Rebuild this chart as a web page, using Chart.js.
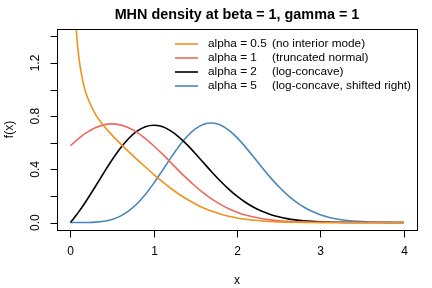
<!DOCTYPE html>
<html>
<head>
<meta charset="utf-8">
<script src="https://cdn.jsdelivr.net/npm/chart.js@4.4.1/dist/chart.umd.min.js"></script>
<style>
html,body{margin:0;padding:0;background:#fff;}
#wrap{width:432px;height:288px;}
</style>
</head>
<body>
<div id="wrap"><canvas id="c" width="432" height="288"></canvas></div>
<script>
// x grid
const xs = [0,0.02,0.05,0.07,0.1,0.15,0.2,0.3,0.4,0.5,0.6,0.7,0.8,0.9,1.0,1.1,1.2,1.3,1.4,1.5,1.6,1.7,1.8,1.9,2.0,2.1,2.2,2.3,2.4,2.5,2.6,2.7,2.8,2.9,3.0,3.1,3.2,3.3,3.4,3.5,3.6,3.7,3.8,3.9,4.0];
const alpha05 = [null,2.611,1.698,1.461,1.253,1.062,0.950,0.816,0.728,0.658,0.594,0.534,0.475,0.418,0.362,0.309,0.260,0.215,0.175,0.140,0.110,0.0845,0.0640,0.0475,0.0347,0.0248,0.0174,0.0120,0.0081,0.0054,0.0035,0.0022,0.0014,0.0009,0.0005,0.0003,0.0002,0.0001,0.0001,0,0,0,0,0,0];
const alpha1 = [0.578,0.589,0.606,0.617,0.632,0.657,0.678,0.713,0.735,0.742,0.735,0.713,0.678,0.632,0.578,0.518,0.455,0.391,0.330,0.273,0.221,0.176,0.137,0.1045,0.0782,0.0574,0.0412,0.0291,0.0201,0.0136,0.0090,0.0059,0.0037,0.0023,0.0014,0.0009,0.0005,0.0003,0.0002,0.0001,0,0,0,0,0];
const alpha2 = [0,0.0149,0.0384,0.0547,0.0802,0.1248,0.1719,0.2711,0.3725,0.4703,0.5588,0.6326,0.6877,0.7214,0.7325,0.7219,0.6915,0.6448,0.5858,0.5191,0.4488,0.3789,0.3124,0.2517,0.1983,0.1527,0.1150,0.0847,0.0611,0.0431,0.0297,0.0201,0.0133,0.0086,0.0055,0.0034,0.0021,0.0012,0.0007,0.0004,0.0002,0.0001,0.0001,0,0];
const alpha5 = [0,0,0,0,0.00003,0.00017,0.00055,0.00295,0.0096,0.0237,0.0486,0.0874,0.1418,0.2117,0.2949,0.3868,0.4810,0.5703,0.6471,0.7052,0.7400,0.7493,0.7335,0.6951,0.6386,0.5693,0.4930,0.4150,0.3399,0.2709,0.2104,0.1591,0.1174,0.0844,0.0592,0.0405,0.0271,0.0177,0.0113,0.0070,0.0043,0.0025,0.0015,0.0008,0.0005];

const xTicks = [0,1,2,3,4];
const yTicks = [0,0.2,0.4,0.6,0.8,1.0,1.2,1.4];
const yLabelTicks = [0,0.4,0.8,1.2];
const yLabelText = ['0.0','0.4','0.8','1.2'];

const seriesNames = ['alpha = 0.5','alpha = 1','alpha = 2','alpha = 5'];
const seriesNotes = ['(no interior mode)','(truncated normal)','(log-concave)','(log-concave, shifted right)'];
const colors = ['#F2921E','#EA6A5C','#000000','#4A86B8'];
const titleText = 'MHN density at beta = 1, gamma = 1';
const xLabel = 'x';
const yLabel = 'f(x)';

const seriesVals = [alpha05, alpha1, alpha2, alpha5];
const datasets = seriesVals.map((vals, i) => ({
  label: seriesNames[i],
  data: xs.map((x, j) => ({x: x, y: vals[j]})),
  borderColor: colors[i],
  borderWidth: 1.6,
  pointRadius: 0,
  fill: false,
  cubicInterpolationMode: 'monotone',
  spanGaps: false
}));

const FONT = '"Liberation Sans", Arial, Helvetica, sans-serif';

const decor = {
  id: 'decor',
  afterDraw(chart) {
    const ctx = chart.ctx;
    const a = chart.chartArea;
    const xs_ = chart.scales.x, ys_ = chart.scales.y;
    ctx.save();
    ctx.strokeStyle = '#000';
    ctx.lineWidth = 1;
    // box
    ctx.strokeRect(Math.round(a.left) + 0.5, Math.round(a.top) + 0.5, Math.round(a.right - a.left), Math.round(a.bottom - a.top));
    ctx.fillStyle = '#000';
    ctx.font = '12px ' + FONT;
    // x ticks
    const yb = Math.round(a.bottom) + 0.5;
    xTicks.forEach(v => {
      const px = Math.round(xs_.getPixelForValue(v)) + 0.5;
      ctx.beginPath(); ctx.moveTo(px, yb); ctx.lineTo(px, yb + 7); ctx.stroke();
      ctx.textAlign = 'center'; ctx.textBaseline = 'middle';
      ctx.fillText(String(v), px, 252);
    });
    // y ticks
    const xl = Math.round(a.left) + 0.5;
    yTicks.forEach(v => {
      const py = Math.round(ys_.getPixelForValue(v)) + 0.5;
      ctx.beginPath(); ctx.moveTo(xl, py); ctx.lineTo(xl - 7, py); ctx.stroke();
    });
    yLabelTicks.forEach((v, i) => {
      const py = ys_.getPixelForValue(v);
      ctx.save();
      ctx.translate(36, py);
      ctx.rotate(-Math.PI / 2);
      ctx.textAlign = 'center'; ctx.textBaseline = 'middle';
      ctx.fillText(yLabelText[i], 0, 0);
      ctx.restore();
    });
    // axis labels
    ctx.textAlign = 'center'; ctx.textBaseline = 'middle';
    ctx.fillText(xLabel, (a.left + a.right) / 2, 281);
    ctx.save();
    ctx.translate(10, (a.top + a.bottom) / 2);
    ctx.rotate(-Math.PI / 2);
    ctx.fillText(yLabel, 0, 0);
    ctx.restore();
    // title
    ctx.font = 'bold 14.4px ' + FONT;
    ctx.fillText(titleText, (a.left + a.right) / 2, 15);
    // legend
    ctx.font = '11.8px ' + FONT;
    ctx.textAlign = 'left';
    const rows = [44, 58, 72, 86];
    seriesNames.forEach((n, i) => {
      ctx.strokeStyle = colors[i];
      ctx.lineWidth = 1.6;
      ctx.beginPath(); ctx.moveTo(175, rows[i]); ctx.lineTo(198, rows[i]); ctx.stroke();
      ctx.fillStyle = '#000';
      ctx.fillText(n, 208, rows[i]);
      ctx.fillText(seriesNotes[i], 272, rows[i]);
    });
    ctx.restore();
  }
};

new Chart(document.getElementById('c'), {
  type: 'line',
  data: { datasets: datasets },
  options: {
    responsive: false,
    animation: false,
    devicePixelRatio: 1,
    layout: { padding: { left: 57, right: 15, top: 29, bottom: 58 } },
    plugins: { legend: { display: false }, title: { display: false }, tooltip: { enabled: false } },
    scales: {
      x: { type: 'linear', min: -0.16, max: 4.16, display: false },
      y: { type: 'linear', min: -0.056, max: 1.456, display: false }
    }
  },
  plugins: [decor]
});
</script>
</body>
</html>
